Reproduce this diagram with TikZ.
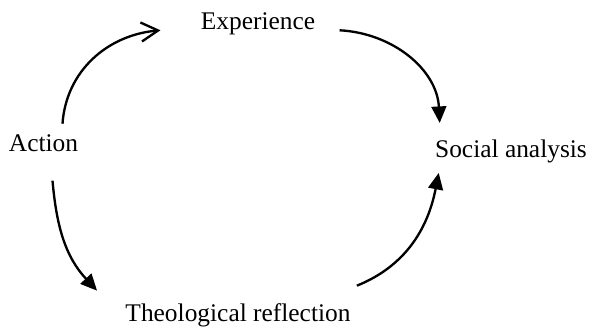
\documentclass[tikz,border=0pt]{standalone}
\usepackage{fontspec}
\setmainfont{Liberation Serif}
\usetikzlibrary{calc,arrows.meta,positioning}

\begin{document}
\begin{tikzpicture}[x=0.0166cm,y=0.0166cm,
        lbl/.style={inner sep=0pt, anchor=base, font=\fontsize{12}{14}\selectfont},
        arr/.style={line width=1.1pt, -{Triangle[length=7.8pt,width=7pt]}},
        barb/.style={line width=1.1pt, -{Straight Barb[length=8pt,width=9pt,line width=1.1pt]}}]
        \useasboundingbox (0,0) rectangle (593,332);
        %\draw (0,0) rectangle (593,332);

        \node[lbl] (exp) at (258,302) {Experience};
        \node[lbl] (act) at (43.5,180) {Action};
        \node[lbl] (soc) at (511,174) {Social analysis};
        \node[lbl] (theo) at (238,10) {Theological reflection};

        \draw[barb] ($(act.north)+(19,11)$) to[out=86,in=185] ($(exp.west)+(-40,-6)$);
        \draw[arr] ($(exp.east)+(24,-6)$) to[out=-3,in=93] ($(soc.north west)+(5,17)$);
        \draw[arr] ($(act.south)+(9,-28)$) to[out=-85,in=133] ($(theo.north west)+(-28,13)$);
        \draw[arr] ($(theo.north east)+(6,18)$) to[out=22,in=-101] ($(soc.south west)+(4,-9)$);
\end{tikzpicture}
\end{document}
